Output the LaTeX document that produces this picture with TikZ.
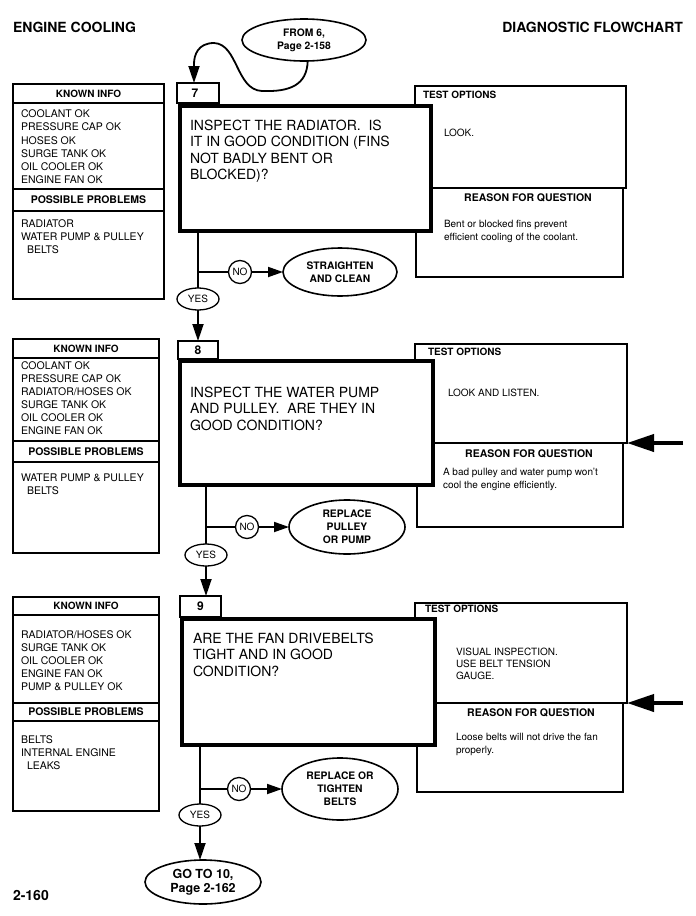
\documentclass[tikz,border=0pt]{standalone}
\usepackage{fontspec}
\setmainfont{TeX Gyre Heros}
\usetikzlibrary{arrows.meta,shapes.geometric}
\begin{document}
\begin{tikzpicture}[x=1pt,y=-1pt,
  every node/.style={inner sep=0pt, outer sep=0pt},
  hdr/.style={font=\bfseries\fontsize{14}{16}\selectfont},
  kbox/.style={draw, line width=1.3pt},
  khead/.style={font=\bfseries\fontsize{10}{12}\selectfont},
  kitem/.style={font=\fontsize{10.5}{13.1}\selectfont, align=left, anchor=north west},
  qbox/.style={draw, fill=white, line width=4.5pt},
  qtext/.style={font=\fontsize{14}{16.5}\selectfont, align=left, anchor=north west},
  tbox/.style={draw, line width=1.8pt},
  rbox/.style={draw, line width=1.3pt},
  ttitle/.style={font=\bfseries\fontsize{10}{12}\selectfont, anchor=base west},
  rtitle/.style={font=\bfseries\fontsize{10.5}{12}\selectfont, anchor=base},
  ttext/.style={font=\fontsize{10}{11.6}\selectfont, align=left, anchor=north west},
  rtext/.style={font=\fontsize{10}{12.5}\selectfont, align=left, anchor=north west},
  tabbox/.style={draw, line width=1.3pt, fill=white, font=\bfseries\fontsize{12}{14}\selectfont},
  flow/.style={line width=1.8pt},
  yesnode/.style={ellipse, draw, fill=white, line width=1.3pt, minimum width=42pt, minimum height=22pt, font=\fontsize{10}{11}\selectfont},
  nonode/.style={circle, draw, fill=white, line width=1.3pt, minimum size=23pt, font=\fontsize{10}{11}\selectfont},
  fixnode/.style={ellipse, draw, fill=white, line width=1.6pt, align=center, font=\bfseries\fontsize{10.3}{13}\selectfont},
  downarrow/.style={flow, -{Triangle[length=17pt,width=11pt]}},
  noarrow/.style={flow, -{Triangle[length=15pt,width=10pt]}},
  bigarrow/.style={line width=4pt, -{Triangle[length=27pt,width=17pt]}}
]
\useasboundingbox (0,0) rectangle (696,916);
\fill[white] (0,0) rectangle (696,916);

% header
\node[hdr, anchor=base west] (title) at (13,32) {ENGINE COOLING};
\node[hdr, anchor=base east] (title2) at (683,32) {DIAGNOSTIC FLOWCHART};
\node[hdr, anchor=base west] (pagenum) at (13,900) {2-160};

% FROM 6
\node[fixnode, minimum width=124pt, minimum height=42pt] (from6) at (304,40) {FROM 6,\\Page 2-158};

% ================= SECTION 7 =================
\draw[kbox] (13,84) rectangle (164,299);
\draw[kbox] (13,103) -- (164,103);
\draw[kbox] (13,189) -- (164,189);
\draw[kbox] (13,211) -- (164,211);
\node[khead] (k7h) at (88.5,93.5) {KNOWN INFO};
\node[kitem] (k7i) at (21,110) {COOLANT OK\\PRESSURE CAP OK\\HOSES OK\\SURGE TANK OK\\OIL COOLER OK\\ENGINE FAN OK};
\node[khead, font=\bfseries\fontsize{10.5}{12}\selectfont] (p7h) at (88.5,200) {POSSIBLE PROBLEMS};
\node[kitem] (p7i) at (21,219.5) {RADIATOR\\WATER PUMP \& PULLEY\\\hspace*{6pt}BELTS};

\draw[tbox] (415,86) rectangle (626,188);
\draw[rbox] (416,188) rectangle (623,277);
\node[ttitle] (t7h) at (423,98.5) {TEST OPTIONS};
\node[ttitle, font=\fontsize{10}{12}\selectfont] (t7t) at (444,136.6) {LOOK.};
\node[rtitle] (r7h) at (528,201) {REASON FOR QUESTION};
\node[rtext] (r7t) at (444,220.2) {Bent or blocked fins prevent\\efficient cooling of the coolant.};

\node[qbox, minimum width=251pt, minimum height=125pt] (q7) at (305.5,168.5) {};
\node[qtext] (q7t) at (190,120) {INSPECT THE RADIATOR.\ \ IS\\IT IN GOOD CONDITION (FINS\\NOT BADLY BENT OR\\BLOCKED)?};
\node[tabbox, minimum width=42pt, minimum height=20pt] (tab7) at (198,93) {\hspace*{-6pt}7};

\node[yesnode] (yes7) at (198,299) {YES};
\node[nonode] (no7) at (240,272) {NO};
\node[fixnode, minimum width=114pt, minimum height=48pt] (fix7) at (340,272) {STRAIGHTEN\\AND CLEAN};
\coordinate (b7) at (198,272);
\draw[flow] (yes7 |- q7.south) -- (yes7.north);
\draw[flow] (b7) -- (no7);
\draw[noarrow] (no7) -- (fix7);

% curve from FROM 6 to step 7
\coordinate (c7) at (194,83);
\draw[downarrow] (from6.-80) .. controls (307,85) and (290,92) .. (262,91)
   .. controls (236,90) and (238,44) .. (214,43)
   .. controls (198,43) and (194,55) .. (194,64) -- (c7);

% ================= SECTION 8 =================
\draw[kbox] (13,339) rectangle (159,553);
\draw[kbox] (13,358) -- (159,358);
\draw[kbox] (13,441) -- (159,441);
\draw[kbox] (13,462) -- (159,462);
\node[khead] (k8h) at (86,348.5) {KNOWN INFO};
\node[kitem] (k8i) at (21,361.5) {COOLANT OK\\PRESSURE CAP OK\\RADIATOR/HOSES OK\\SURGE TANK OK\\OIL COOLER OK\\ENGINE FAN OK};
\node[khead, font=\bfseries\fontsize{10.5}{12}\selectfont] (p8h) at (86,451.5) {POSSIBLE PROBLEMS};
\node[kitem] (p8i) at (21,474) {WATER PUMP \& PULLEY\\\hspace*{6pt}BELTS};

\draw[tbox] (415,344) rectangle (627,443);
\draw[rbox] (417,443) rectangle (623,527);
\node[ttitle] (t8h) at (428,355.6) {TEST OPTIONS};
\node[ttitle, font=\fontsize{10}{12}\selectfont] (t8t) at (448,396.6) {LOOK AND LISTEN.};
\node[rtitle] (r8h) at (529,457) {REASON FOR QUESTION};
\node[rtext, font=\fontsize{10}{13}\selectfont] (r8t) at (443,468.2) {A bad pulley and water pump won't\\cool the engine efficiently.};
\coordinate (in8) at (683,443);
\coordinate (t8e) at (627,443);
\draw[bigarrow] (in8) -- (t8e);

\node[qbox, minimum width=253pt, minimum height=124pt] (q8) at (306.5,423) {};
\node[qtext] (q8t) at (190,387) {INSPECT THE WATER PUMP\\AND PULLEY.\ \ ARE THEY IN\\GOOD CONDITION?};
\node[tabbox, minimum width=40pt, minimum height=18pt] (tab8) at (198,350) {8};
\draw[downarrow] (yes7) -- (yes7 |- tab8.north);

\node[yesnode] (yes8) at (206,555) {YES};
\node[nonode] (no8) at (247,527) {NO};
\node[fixnode, minimum width=116pt, minimum height=54pt] (fix8) at (347,527) {REPLACE\\PULLEY\\OR PUMP};
\coordinate (b8) at (206,527);
\draw[flow] (yes8 |- q8.south) -- (yes8.north);
\draw[flow] (b8) -- (no8);
\draw[noarrow] (no8) -- (fix8);

% ================= SECTION 9 =================
\draw[kbox] (13,597) rectangle (159,811);
\draw[kbox] (13,615) -- (159,615);
\draw[kbox] (13,703) -- (159,703);
\draw[kbox] (13,721) -- (159,721);
\node[khead] (k9h) at (86,606) {KNOWN INFO};
\node[kitem] (k9i) at (21,630.5) {RADIATOR/HOSES OK\\SURGE TANK OK\\OIL COOLER OK\\ENGINE FAN OK\\PUMP \& PULLEY OK};
\node[khead, font=\bfseries\fontsize{10.5}{12}\selectfont] (p9h) at (86,712) {POSSIBLE PROBLEMS};
\node[kitem] (p9i) at (21,735.5) {BELTS\\INTERNAL ENGINE\\\hspace*{6pt}LEAKS};

\draw[tbox] (415,603) rectangle (627,703);
\draw[rbox] (417,703) rectangle (623,792);
\node[ttitle] (t9h) at (425,612.6) {TEST OPTIONS};
\node[ttext] (t9t) at (456,648.4) {VISUAL INSPECTION.\\USE BELT TENSION\\GAUGE.};
\node[rtitle] (r9h) at (531,716) {REASON FOR QUESTION};
\node[rtext, font=\fontsize{10}{13}\selectfont] (r9t) at (456,733.2) {Loose belts will not drive the fan\\properly.};
\coordinate (in9) at (683,703);
\coordinate (t9e) at (627,703);
\draw[bigarrow] (in9) -- (t9e);

\node[qbox, minimum width=253pt, minimum height=126pt] (q9) at (308.5,682) {};
\node[qtext] (q9t) at (193,633) {ARE THE FAN DRIVEBELTS\\TIGHT AND IN GOOD\\CONDITION?};
\node[tabbox, minimum width=41pt, minimum height=21pt] (tab9) at (200.5,606.5) {9};
\draw[downarrow] (yes8) -- (yes8 |- tab9.north);

\node[yesnode] (yes9) at (200,815) {YES};
\node[nonode] (no9) at (239,789) {NO};
\node[fixnode, minimum width=116pt, minimum height=62pt] (fix9) at (340,789) {REPLACE OR\\TIGHTEN\\BELTS};
\coordinate (b9) at (200,789);
\draw[flow] (yes9 |- q9.south) -- (yes9.north);
\draw[flow] (b9) -- (no9);
\draw[noarrow] (no9) -- (fix9);

\node[fixnode, minimum width=116pt, minimum height=44pt, font=\bfseries\fontsize{12.5}{14}\selectfont] (goto) at (203,882) {GO TO 10,\\Page 2-162};
\draw[downarrow] (yes9) -- (yes9 |- goto.north);
\end{tikzpicture}
\end{document}
